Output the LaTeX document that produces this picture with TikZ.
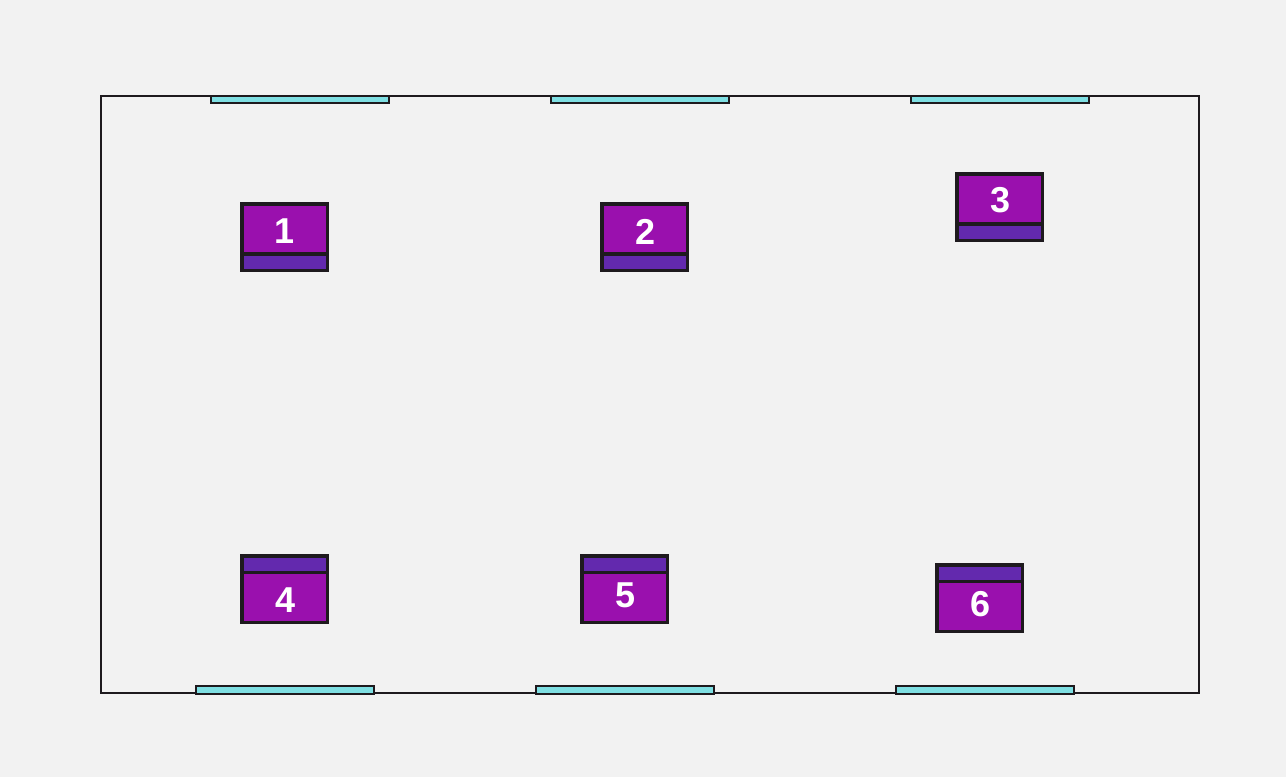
\documentclass[tikz,border=0pt]{standalone}
\usepackage{fontspec}
\setmainfont{Liberation Sans}
\definecolor{bgc}{HTML}{F2F2F2}
\definecolor{dk}{HTML}{1E1A1E}
\definecolor{win}{HTML}{7FDFE3}
\definecolor{mainp}{HTML}{9A10AE}
\definecolor{subp}{HTML}{6329AE}
\begin{document}
\begin{tikzpicture}[x=0.75pt,y=-0.75pt,
  room/.style={draw=dk,line width=1.4pt},
  winbox/.style={draw=dk,fill=win,line width=1.5pt},
  unitbox/.style={draw=dk,fill=mainp,line width=2.8pt},
  stripbox/.style={draw=dk,fill=subp,line width=2.8pt},
  lab/.style={text=white,font=\bfseries\fontsize{27pt}{27pt}\selectfont,inner sep=0pt}]
\useasboundingbox[fill=bgc] (0,0) rectangle (1286,777);
\draw[room] (101,96) rectangle (1199,693);
\foreach \x/\y in {211/96,551/96,911/96,196/686,536/686,896/686}
  \draw[winbox] (\x,\y) rectangle ++(178,7.5);
\foreach \x/\y/\t/\lx/\ly in {242/204/1/285/231,602/204/2/645.7/232,957/174/3/1000.7/200.5}{
  \draw[unitbox] (\x,\y) rectangle ++(85.5,50);
  \draw[stripbox] (\x,\y+50) rectangle ++(85.5,16.5);
  \node[lab] at (\lx,\ly) {\t};
}
\foreach \x/\y/\t/\lx/\ly in {242/556/4/285.2/600.5,582/556/5/625.7/595.5,937/565/6/980.7/604}{
  \draw[stripbox] (\x,\y) rectangle ++(85.5,16.5);
  \draw[unitbox] (\x,\y+16.5) rectangle ++(85.5,50);
  \node[lab] at (\lx,\ly) {\t};
}
\end{tikzpicture}
\end{document}
